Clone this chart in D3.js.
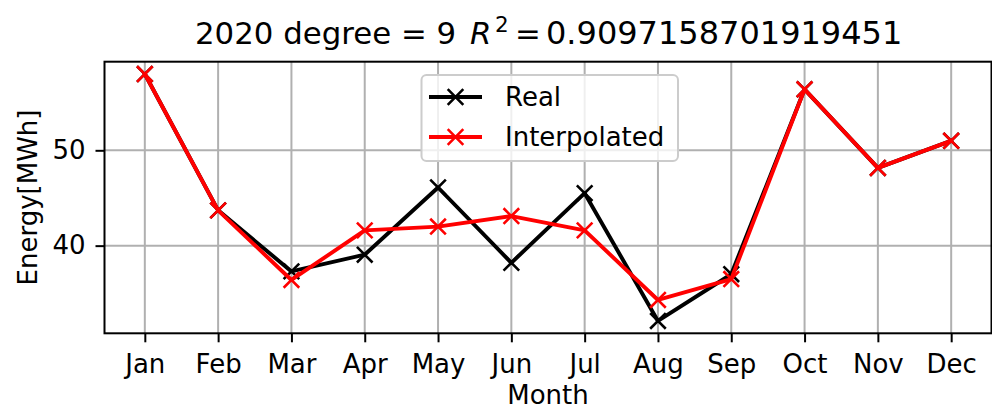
<!DOCTYPE html>
<html>
<head>
<meta charset="utf-8">
<script src="https://cdn.jsdelivr.net/npm/d3@7"></script>
<style>
  html, body { margin: 0; padding: 0; background: #fff; }
  svg { display: block; font-family: "DejaVu Sans", sans-serif; }
</style>
</head>
<body>
<svg id="chart" width="992" height="410"></svg>
<script>
// Monthly energy, measured vs. degree-9 polynomial fit
const months = ["Jan", "Feb", "Mar", "Apr", "May", "Jun", "Jul", "Aug", "Sep", "Oct", "Nov", "Dec"];
const realValues = [58.0, 43.7, 37.3, 39.05, 46.1, 38.2, 45.5, 32.1, 37.0, 56.4, 48.15, 51.0];
const interpolatedValues = [58.0, 43.7, 36.4, 41.6, 42.0, 43.1, 41.6, 34.3, 36.5, 56.4, 48.15, 51.0];
const yTicks = [40, 50];
const seriesNames = ["Real", "Interpolated"];
const seriesColors = ["#000000", "#ff0000"];
const titleLead = "2020 degree = 9";
const titleValue = "0.9097158701919451";

const svg = d3.select("#chart");
const box = { left: 104.5, right: 991.5, top: 61.7, bottom: 333.3 };
const fs = 26;

// x: category index with 5% padding on each side
const n = months.length;
const pad = 0.05 * (n - 1);
const x = d3.scaleLinear().domain([-pad, n - 1 + pad]).range([box.left, box.right]);

const all = realValues.concat(interpolatedValues);
const [lo, hi] = d3.extent(all);
const m = 0.05 * (hi - lo);
const y = d3.scaleLinear().domain([lo - m, hi + m]).range([box.bottom, box.top]);

// grid
const grid = svg.append("g").attr("stroke", "#b0b0b0").attr("stroke-width", 2);
months.forEach((_, i) => {
  grid.append("line").attr("x1", x(i)).attr("x2", x(i)).attr("y1", box.top).attr("y2", box.bottom);
});
yTicks.forEach(t => {
  grid.append("line").attr("x1", box.left).attr("x2", box.right).attr("y1", y(t)).attr("y2", y(t));
});

// axes
const xAxis = d3.axisBottom(x)
  .tickValues(d3.range(n))
  .tickFormat(i => months[i])
  .tickSizeInner(9).tickSizeOuter(0).tickPadding(12);
const gx = svg.append("g").attr("transform", `translate(0,${box.bottom})`).call(xAxis);
gx.select(".domain").remove();
gx.selectAll("line").attr("stroke", "#000").attr("stroke-width", 2);
gx.selectAll("text").attr("font-size", fs).attr("fill", "#000").attr("font-family", "DejaVu Sans");

const yAxis = d3.axisLeft(y).tickValues(yTicks).tickSizeInner(9).tickSizeOuter(0).tickPadding(10);
const gy = svg.append("g").attr("transform", `translate(${box.left},0)`).call(yAxis);
gy.select(".domain").remove();
gy.selectAll("line").attr("stroke", "#000").attr("stroke-width", 2);
gy.selectAll("text").attr("font-size", fs).attr("fill", "#000").attr("font-family", "DejaVu Sans");

// series
const line = d3.line().x((d, i) => x(i)).y(d => y(d));
const ms = 7.8;
function cross(cx, cy) {
  return `M${cx - ms},${cy - ms}L${cx + ms},${cy + ms}M${cx - ms},${cy + ms}L${cx + ms},${cy - ms}`;
}
function drawSeries(values, color) {
  const g = svg.append("g");
  g.append("path").datum(values).attr("d", line)
    .attr("fill", "none").attr("stroke", color).attr("stroke-width", 3.9)
    .attr("stroke-linejoin", "round").attr("stroke-linecap", "square");
  values.forEach((v, i) => {
    g.append("path").attr("d", cross(x(i), y(v)))
      .attr("stroke", color).attr("stroke-width", 2.6).attr("fill", "none");
  });
}
drawSeries(realValues, seriesColors[0]);
drawSeries(interpolatedValues, seriesColors[1]);

// frame
svg.append("rect").attr("x", box.left).attr("y", box.top)
  .attr("width", box.right - box.left).attr("height", box.bottom - box.top)
  .attr("fill", "none").attr("stroke", "#000").attr("stroke-width", 2);

// legend
const lg = svg.append("g");
lg.append("rect").attr("x", 421.5).attr("y", 75).attr("width", 256.5).attr("height", 86)
  .attr("rx", 5).attr("fill", "#fff").attr("fill-opacity", 0.8)
  .attr("stroke", "#cccccc").attr("stroke-width", 2);
seriesNames.forEach((name, k) => {
  const ly = 97 + k * 40;
  lg.append("line").attr("x1", 429).attr("x2", 482).attr("y1", ly).attr("y2", ly)
    .attr("stroke", seriesColors[k]).attr("stroke-width", 3.9);
  lg.append("path").attr("d", cross(455.5, ly))
    .attr("stroke", seriesColors[k]).attr("stroke-width", 2.6);
  lg.append("text").attr("x", 505).attr("y", ly + 9).attr("font-size", fs).attr("fill", "#000").text(name);
});

// axis labels
svg.append("text").attr("x", (box.left + box.right) / 2).attr("y", 404)
  .attr("text-anchor", "middle").attr("font-size", fs).text("Month");
svg.append("text").attr("transform", `translate(37,${(box.top + box.bottom) / 2}) rotate(-90)`)
  .attr("text-anchor", "middle").attr("font-size", fs).text("Energy[MWh]");

// title with math-style R^2
const title = svg.append("text").attr("x", 195).attr("y", 43.5).attr("font-size", 30.8);
title.append("tspan").text(titleLead);
title.append("tspan").attr("x", 470).attr("font-style", "italic").text("R");
title.append("tspan").attr("x", 495).attr("font-size", 21.5).attr("dy", -12).text("2");
title.append("tspan").attr("x", 515).attr("dy", 12).text("=");
title.append("tspan").attr("x", 546).attr("font-size", 32).text(titleValue);
</script>
</body>
</html>
